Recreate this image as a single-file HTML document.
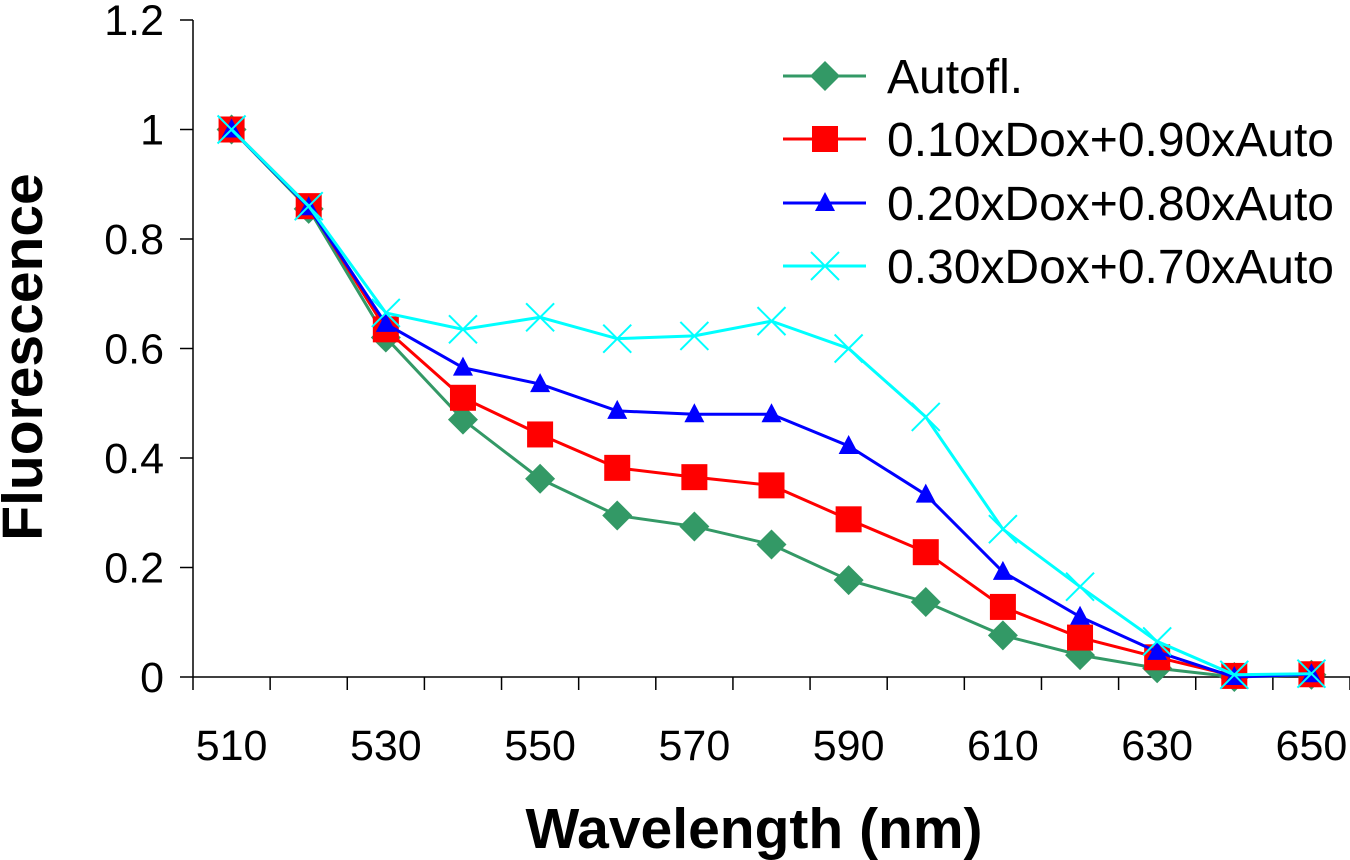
<!DOCTYPE html>
<html><head><meta charset="utf-8"><style>
html,body{margin:0;padding:0;background:#fff}
svg{display:block;font-family:"Liberation Sans",Arial,sans-serif}
</style></head><body>
<svg id="chart" width="1350" height="860" viewBox="0 0 1350 860">
<g id="axes"></g>
<g id="series"></g>
<g id="legend"></g>
<text x="42" y="357" transform="rotate(-90 42 357)" text-anchor="middle" font-size="57" font-weight="bold">Fluorescence</text>
<text x="754" y="848" text-anchor="middle" font-size="57" font-weight="bold">Wavelength (nm)</text>
</svg>
<script>
const categories=[510,520,530,540,550,560,570,580,590,600,610,620,630,640,650];
const autofl=[1.0,0.855,0.62,0.47,0.362,0.295,0.275,0.242,0.177,0.137,0.076,0.04,0.016,0.0,0.004];
const dox10=[1.0,0.86,0.635,0.51,0.443,0.382,0.365,0.35,0.288,0.228,0.128,0.072,0.036,0.002,0.005];
const dox20=[1.0,0.858,0.645,0.565,0.535,0.486,0.48,0.48,0.422,0.333,0.192,0.11,0.046,0.0,0.005];
const dox30=[1.0,0.86,0.665,0.635,0.657,0.618,0.623,0.65,0.6,0.475,0.27,0.165,0.065,0.004,0.006];
const yTicks=[0,0.2,0.4,0.6,0.8,1,1.2];
const yTickLabels=["0","0.2","0.4","0.6","0.8","1","1.2"];
const seriesNames=["Autofl.","0.10xDox+0.90xAuto","0.20xDox+0.80xAuto","0.30xDox+0.70xAuto"];

const NS="http://www.w3.org/2000/svg";
const L=193,R=1350,T=20,B=677;
const bw=(R-L)/categories.length;
const x=i=>L+bw*(i+0.5);
const y=v=>B-(B-T)*v/1.2;
function mk(tag,attrs,parent){const e=document.createElementNS(NS,tag);for(const k in attrs)e.setAttribute(k,attrs[k]);parent.appendChild(e);return e;}
const ax=document.getElementById('axes'),sg=document.getElementById('series'),lg=document.getElementById('legend');
let e=mk('line',{x1:L,y1:T,x2:L,y2:B,stroke:'#000','stroke-width':1.5},ax);


e=mk('line',{x1:L,y1:B,x2:R,y2:B,stroke:'#000','stroke-width':1.5},ax);


yTicks.forEach((t,i)=>{
  mk('line',{x1:L-13,y1:y(t),x2:L,y2:y(t),stroke:'#000','stroke-width':1.5},ax);
  const tx=mk('text',{x:164,y:y(t)+15,'text-anchor':'end','font-size':43},ax);
  tx.textContent=yTickLabels[i];
  
  
});
for(let i=0;i<=categories.length;i++){mk('line',{x1:L+bw*i,y1:B,x2:L+bw*i,y2:B+13,stroke:'#000','stroke-width':1.5},ax);}
categories.forEach((c,i)=>{if(i%2===0){const tx=mk('text',{x:x(i),y:760,'text-anchor':'middle','font-size':43},ax);tx.textContent=c;
  
  }});
function marker(type,cx,cy,g,col){
  if(type===0)return mk('polygon',{points:`${cx},${cy-15} ${cx+15},${cy} ${cx},${cy+15} ${cx-15},${cy}`,fill:col},g);
  if(type===1)return mk('rect',{x:cx-13,y:cy-13,width:26,height:26,fill:col},g);
  if(type===2)return mk('polygon',{points:`${cx},${cy-11} ${cx+10},${cy+8} ${cx-10},${cy+8}`,fill:col},g);
  const gg=mk('g',{},g);
  mk('line',{x1:cx-14,y1:cy-14,x2:cx+14,y2:cy+14,stroke:col,'stroke-width':2},gg);
  mk('line',{x1:cx-14,y1:cy+14,x2:cx+14,y2:cy-14,stroke:col,'stroke-width':2},gg);return gg;
}
const all=[autofl,dox10,dox20,dox30];
const colors=['#339966','#ff0000','#0000ff','#00ffff'];
all.forEach((d,s)=>{
  const g=mk('g',{},sg);
  
  
  const pl=mk('polyline',{points:d.map((v,i)=>x(i)+','+y(v)).join(' '),fill:'none',stroke:colors[s],'stroke-width':3},g);
  
  
  d.forEach((v,i)=>{const m=marker(s,x(i),y(v),g,colors[s]);
    
    });
});
const rowsY=[76,139,203,266];
seriesNames.forEach((n,s)=>{
  const g=mk('g',{},lg);
  
  
  mk('line',{x1:783,y1:rowsY[s],x2:866,y2:rowsY[s],stroke:colors[s],'stroke-width':3},g);
  marker(s,825,rowsY[s],g,colors[s]);
  const t=mk('text',{x:887,y:rowsY[s]+17,'font-size':48},g);t.textContent=n;
});
</script>
</body></html>
